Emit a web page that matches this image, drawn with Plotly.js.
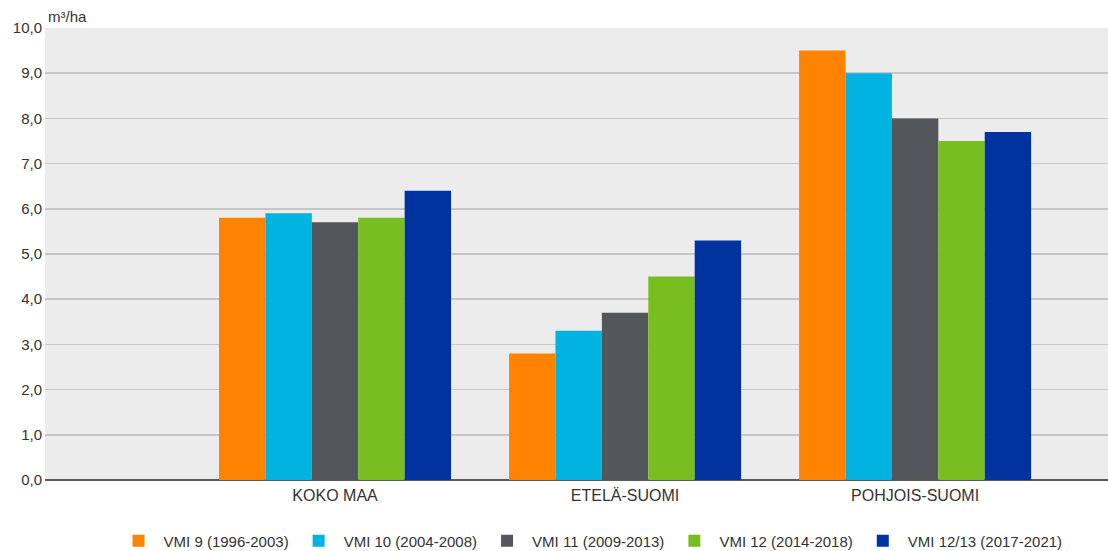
<!DOCTYPE html>
<html>
<head>
<meta charset="utf-8">
<script src="https://cdn.plot.ly/plotly-3.0.1.min.js"></script>
<style>html,body{margin:0;padding:0;background:#fff;}#chart{width:1108px;height:551px;}</style>
</head>
<body>
<div id="chart"></div>
<script>
const categories = ["KOKO MAA", "ETELÄ-SUOMI", "POHJOIS-SUOMI"];
const seriesNames = ["VMI 9 (1996-2003)", "VMI 10 (2004-2008)", "VMI 11 (2009-2013)", "VMI 12 (2014-2018)", "VMI 12/13 (2017-2021)"];
const vmi9 = [5.8, 2.8, 9.5];
const vmi10 = [5.9, 3.3, 9.0];
const vmi11 = [5.7, 3.7, 8.0];
const vmi12 = [5.8, 4.5, 7.5];
const vmi1213 = [6.4, 5.3, 7.7];
const colors = ["#ff8200", "#00b3e0", "#53565a", "#78be20", "#0033a0"];
const yTicks = [0,1,2,3,4,5,6,7,8,9,10];

const seriesValues = [vmi9, vmi10, vmi11, vmi12, vmi1213];
const data = seriesValues.map((v, i) => ({
  type: "bar",
  x: categories,
  y: v,
  name: seriesNames[i],
  marker: {color: colors[i], line: {width: 0}},
  hoverinfo: "y+name"
}));

const fam = "Liberation Sans, Arial, sans-serif";
const layout = {
  width: 1108, height: 551,
  margin: {l: 45, r: 0, t: 28, b: 71, autoexpand: false},
  paper_bgcolor: "#ffffff",
  plot_bgcolor: "#ececec",
  font: {family: fam, size: 15, color: "#333"},
  separators: ",.",
  barmode: "group",
  bargap: 0.2,
  bargroupgap: 0,
  xaxis: {
    type: "category",
    range: [-1.0, 2.665],
    showgrid: false,
    zeroline: false,
    showline: false,
    ticks: "",
    ticklabelstandoff: 4,
    tickfont: {family: fam, size: 16, color: "#333"},
    automargin: false,
    fixedrange: true
  },
  yaxis: {
    range: [0, 10],
    tickvals: yTicks,
    tickformat: ".1f",
    showgrid: true,
    gridcolor: "#c6c6c6",
    gridwidth: 1.5,
    zeroline: true,
    zerolinecolor: "#5a5a5a",
    zerolinewidth: 2,
    showline: false,
    ticks: "",
    ticklabelstandoff: 2,
    tickfont: {family: fam, size: 15, color: "#333"},
    automargin: false,
    fixedrange: true
  },
  showlegend: true,
  legend: {
    orientation: "h",
    xref: "container", yref: "container",
    x: 0.533, xanchor: "center",
    y: 0.018, yanchor: "middle",
    font: {family: fam, size: 15, color: "#333"},
    itemwidth: 40,
    traceorder: "normal"
  },
  annotations: [{
    text: "m³/ha",
    xref: "paper", yref: "paper",
    x: 0, y: 1, xanchor: "left", yanchor: "bottom",
    xshift: 1, yshift: 1,
    showarrow: false,
    font: {family: fam, size: 15, color: "#333"}
  }]
};

Plotly.newPlot("chart", data, layout, {displayModeBar: false, staticPlot: true});
</script>
</body>
</html>
